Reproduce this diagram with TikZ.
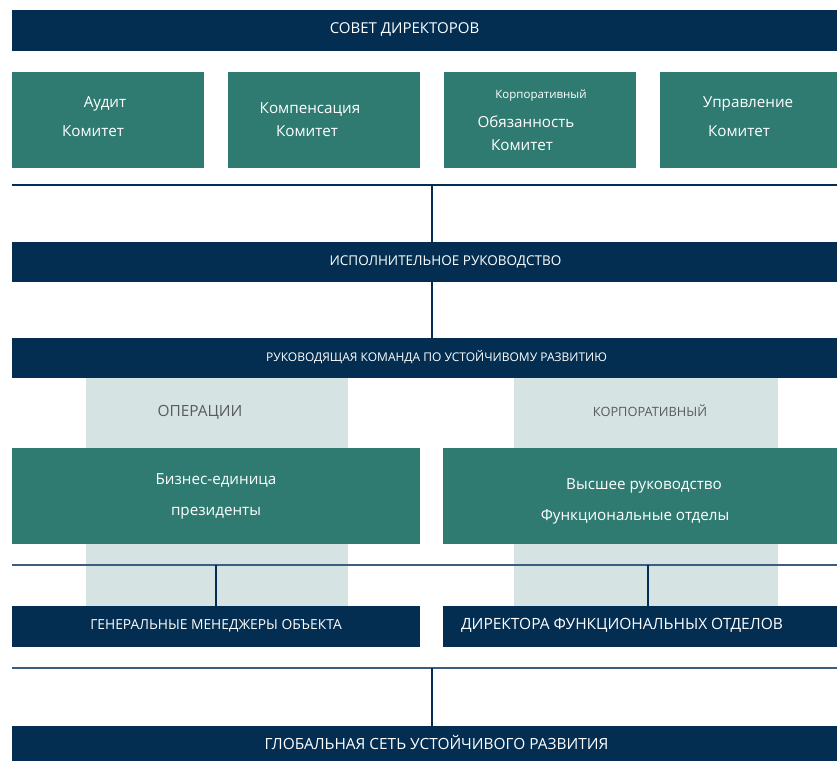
\documentclass[tikz,border=0pt]{standalone}
\usepackage{fontspec}
\setmainfont{Open Sans}
\usetikzlibrary{positioning}
\definecolor{navy}{HTML}{032E52}
\definecolor{sgteal}{HTML}{2F7B72}
\definecolor{colfill}{HTML}{D6E3E3}
\definecolor{busline}{HTML}{3C5C82}
\definecolor{lbltext}{HTML}{5A5A5A}
\tikzset{
    navybar/.style={fill=navy, inner sep=0pt, minimum height=41pt},
    tealbox/.style={fill=sgteal, inner sep=0pt, minimum height=96pt},
    wtext/.style={text=white, inner sep=0pt, text height=1.5ex, text depth=.25ex},
    ctext/.style={wtext, font=\fontsize{15.2}{17}\selectfont},
    coltext/.style={text=lbltext, inner sep=0pt, text height=1.5ex, text depth=.25ex},
    bus/.style={draw=navy, line width=2pt},
    link/.style={draw=navy, line width=1.5pt},
}
\begin{document}
\begin{tikzpicture}[x=1pt, y=-1pt]
    \useasboundingbox (0,0) rectangle (837,761);
    % columns behind
    \fill[colfill] (86,378) rectangle (348,606);
    \fill[colfill] (514,378) rectangle (778,606);
    \node[coltext, font=\fontsize{15.4}{17}\selectfont] (opslbl) at (200,413) {ОПЕРАЦИИ};
    \node[coltext, font=\fontsize{12.8}{14}\selectfont] (corplbl) at (650,413) {КОРПОРАТИВНЫЙ};

    % board and committees
    \node[navybar, minimum width=825pt] (board) at (424.5,30.5) {};
    \node[wtext, font=\fontsize{15}{17}\selectfont] (boardtxt) at ([xshift=-20pt]board.center) {СОВЕТ ДИРЕКТОРОВ};
    \node[tealbox, minimum width=192pt] (audit) at (108,120) {};
    \node[tealbox, minimum width=192pt] (comp) at (324,120) {};
    \node[tealbox, minimum width=192pt] (corpresp) at (540,120) {};
    \node[tealbox, minimum width=177pt] (gov) at (748.5,120) {};
    \node[ctext] (audit1) at (105,104) {Аудит};
    \node[ctext] (audit2) at (93,133) {Комитет};
    \node[ctext] (comp1) at (310,110) {Компенсация};
    \node[ctext] (comp2) at (307,133) {Комитет};
    \node[wtext, font=\fontsize{11.5}{13}\selectfont] (corpresp1) at (541,95) {Корпоративный};
    \node[ctext] (corpresp2) at (526,124) {Обязанность};
    \node[ctext] (corpresp3) at (522,147) {Комитет};
    \node[ctext] (gov1) at (748,104) {Управление};
    \node[ctext] (gov2) at (739,133) {Комитет};

    \coordinate (b1l) at (12,185);
    \coordinate (b1r) at (837,185);
    \coordinate (b1) at (432,185);
    \draw[bus] (b1l) -- (b1r);

    % executive and steering team
    \node[navybar, minimum width=825pt, minimum height=40pt] (exec) at (424.5,262) {};
    \node[wtext, font=\fontsize{13.5}{15}\selectfont] (exectxt) at ([xshift=21pt]exec.center) {ИСПОЛНИТЕЛЬНОЕ РУКОВОДСТВО};
    \node[navybar, minimum width=825pt, minimum height=40pt] (steer) at (424.5,358) {};
    \node[wtext, font=\fontsize{12}{14}\selectfont] (steertxt) at ([xshift=12pt]steer.center) {РУКОВОДЯЩАЯ КОМАНДА ПО УСТОЙЧИВОМУ РАЗВИТИЮ};
    \draw[link] (b1) -- (b1 |- exec.north);
    \draw[link] (exec.south -| b1) -- (steer.north -| b1);

    % business units and functions
    \node[tealbox, minimum width=408pt] (bu) at (216,496) {};
    \node[tealbox, minimum width=394pt] (senior) at (640,496) {};
    \node[ctext] (bu1) at (216,481) {Бизнес-единица};
    \node[ctext] (bu2) at (216,512) {президенты};
    \node[ctext] (senior1) at (644,486) {Высшее руководство};
    \node[ctext] (senior2) at (635,517) {Функциональные отделы};

    \coordinate (b2l) at (12,565);
    \coordinate (b2r) at (837,565);
    \coordinate (b2a) at (216,565);
    \coordinate (b2b) at (648,565);
    \draw[bus, draw=busline] (b2l) -- (b2r);

    \node[navybar, minimum width=408pt] (gm) at (216,626.5) {};
    \node[wtext, font=\fontsize{13.8}{16}\selectfont] (gmtxt) at (gm.center) {ГЕНЕРАЛЬНЫЕ МЕНЕДЖЕРЫ ОБЪЕКТА};
    \node[navybar, minimum width=394pt] (fd) at (640,626.5) {};
    \node[wtext, font=\fontsize{15.5}{17}\selectfont] (fdtxt) at ([xshift=-18pt]fd.center) {ДИРЕКТОРА ФУНКЦИОНАЛЬНЫХ ОТДЕЛОВ};
    \draw[link] (b2a) -- (b2a |- gm.north);
    \draw[link] (b2b) -- (b2b |- fd.north);

    \coordinate (b3l) at (12,668);
    \coordinate (b3r) at (837,668);
    \coordinate (b3) at (432,668);
    \draw[bus, draw=busline] (b3l) -- (b3r);

    % global network
    \node[navybar, minimum width=825pt, minimum height=35pt] (global) at (424.5,743.5) {};
    \node[wtext, font=\fontsize{15.4}{17}\selectfont] (globaltxt) at ([xshift=12pt, yshift=-2.5pt]global.center) {ГЛОБАЛЬНАЯ СЕТЬ УСТОЙЧИВОГО РАЗВИТИЯ};
    \draw[link] (b3) -- (b3 |- global.north);
\end{tikzpicture}
\end{document}
